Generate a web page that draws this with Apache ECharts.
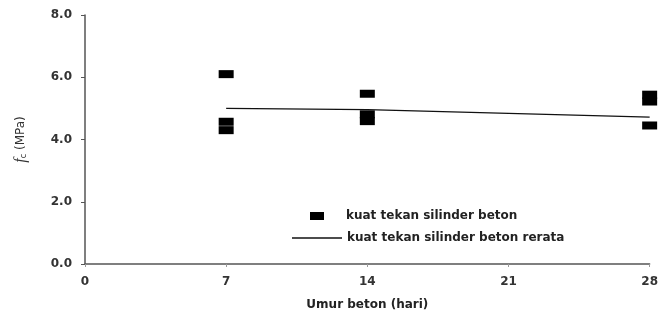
<!DOCTYPE html>
<html>
<head>
<meta charset="utf-8">
<script src="https://cdn.jsdelivr.net/npm/echarts@6/dist/echarts.min.js"></script>
<style>
  html, body { margin: 0; padding: 0; background: #fff; }
  #chart { width: 661px; height: 316px; }
</style>
</head>
<body>
<div id="chart"></div>
<script>
  // umur beton (hari) dan kuat tekan tiap benda uji
  var days = [7, 7, 7, 14, 14, 14, 28, 28, 28]
  var strength = [6.1, 4.57, 4.3, 5.47, 4.81, 4.59, 5.44, 5.22, 4.45]
  // garis rerata
  var meanDays = [7, 14, 28]
  var meanStrength = [5.0, 4.96, 4.72]
  var xTicks = [0, 7, 14, 21, 28]
  var yTicks = [0, 2, 4, 6, 8]

  var nameScatter = 'kuat tekan silinder beton'
  var nameLine = 'kuat tekan silinder beton rerata'
  var font = 'DejaVu Sans'

  var chart = echarts.init(document.getElementById('chart'))
  chart.setOption({
    animation: false,
    grid: { left: 85, right: 10, top: 15, bottom: 48 },
    legend: [{
      data: [{ name: nameScatter, icon: 'rect' }],
      left: 305, top: 205,
      itemWidth: 14, itemHeight: 8,
      textStyle: { fontFamily: font, fontWeight: 'bold', fontSize: 12, color: '#222', padding: [0, 0, 0, 17] }
    }, {
      data: [{ name: nameLine, icon: 'rect' }],
      left: 287, top: 227,
      itemWidth: 50, itemHeight: 1.6,
      textStyle: { fontFamily: font, fontWeight: 'bold', fontSize: 12, color: '#222' }
    }],
    xAxis: {
      type: 'value',
      min: 0, max: 28, interval: 7,
      name: 'Umur beton (hari)',
      nameLocation: 'middle',
      nameGap: 35,
      nameTextStyle: { fontFamily: font, fontWeight: 'bold', fontSize: 12, color: '#222' },
      axisLine: { lineStyle: { color: '#555', width: 1.5 } },
      axisTick: { show: true, length: 3, lineStyle: { color: '#999' } },
      splitLine: { show: false },
      axisLabel: {
        fontFamily: font, fontWeight: 'bold', fontSize: 12, color: '#333', margin: 12,
        formatter: function (v) { return xTicks.indexOf(v) >= 0 ? String(v) : '' }
      }
    },
    yAxis: {
      type: 'value',
      min: 0, max: 8, interval: 2,
      name: '{f|f}{s|c} (MPa)',
      nameLocation: 'middle',
      nameGap: 56,
      nameTextStyle: {
        fontFamily: font, fontSize: 12, color: '#333',
        rich: {
          f: { fontFamily: 'Liberation Serif', fontStyle: 'italic', fontSize: 16, color: '#333' },
          s: { fontFamily: font, fontSize: 8, color: '#333', padding: [6, 0, 0, 0] }
        }
      },
      axisLine: { show: true, lineStyle: { color: '#555', width: 1.5 } },
      axisTick: { show: true, length: 4, lineStyle: { color: '#555' } },
      splitLine: { show: false },
      axisLabel: {
        fontFamily: font, fontWeight: 'bold', fontSize: 12, color: '#333', margin: 13,
        formatter: function (v) { return yTicks.indexOf(v) >= 0 ? v.toFixed(1) : '' }
      }
    },
    series: [{
      name: nameScatter,
      type: 'scatter',
      symbol: 'rect',
      symbolSize: [15, 8],
      itemStyle: { color: '#000', opacity: 1 },
      data: days.map(function (d, i) { return [d, strength[i]] })
    }, {
      name: nameLine,
      type: 'line',
      symbol: 'none',
      lineStyle: { color: '#111', width: 1.2 },
      itemStyle: { color: '#111' },
      data: meanDays.map(function (d, i) { return [d, meanStrength[i]] })
    }]
  })
</script>
</body>
</html>
